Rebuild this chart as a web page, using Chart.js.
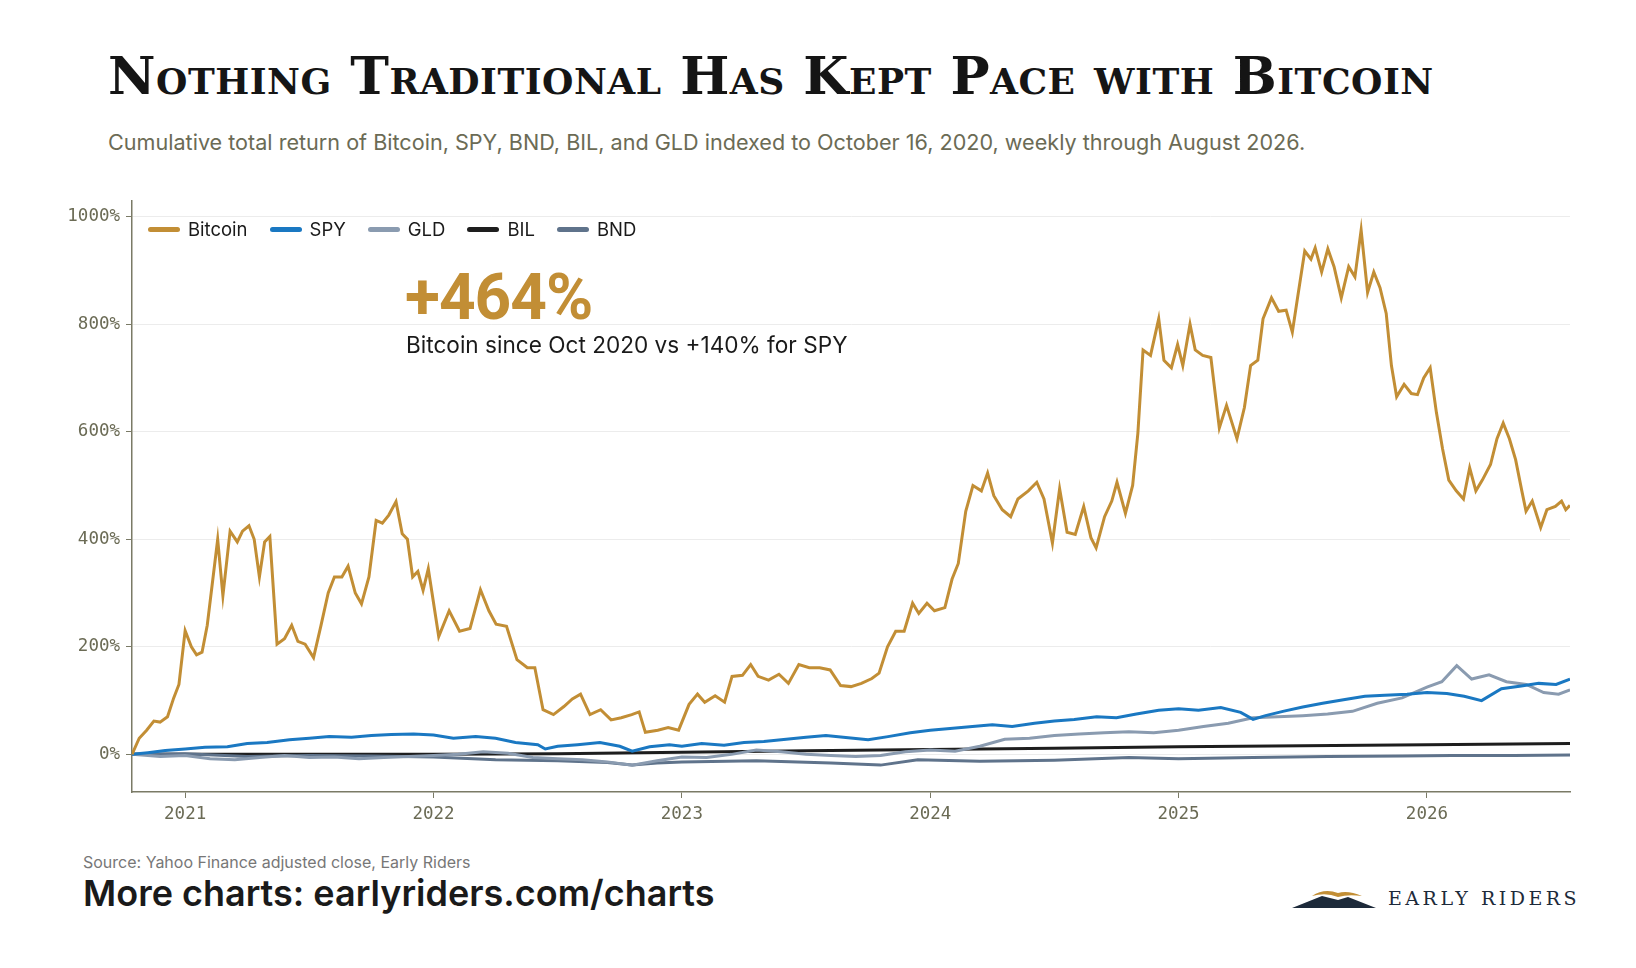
<!DOCTYPE html>
<html><head><meta charset="utf-8">
<script src="https://cdn.jsdelivr.net/npm/chart.js@4"></script>
<style>
body{margin:0;width:1636px;height:968px;background:#fff;position:relative;overflow:hidden;font-family:"Inter","Noto Sans",sans-serif}
#title{position:absolute;left:108px;top:45px;font-family:"DejaVu Serif",serif;font-weight:bold;font-variant:small-caps;font-size:52px;color:#151515;letter-spacing:0.5px}
#sub{position:absolute;left:108px;top:129px;font-size:21.6px;color:#6b6b55}
#wrap{position:absolute;left:60px;top:184px;width:1514px;height:653px}
#legend{position:absolute;left:148px;top:218px;font-size:18.5px;color:#1a1a1a;display:flex;gap:22px}
#legend span{display:flex;align-items:center}
#legend i{display:inline-block;width:32px;height:5px;border-radius:3px;margin-right:8px}
#big{position:absolute;left:405px;top:260px;font-family:"Roboto",sans-serif;font-size:64px;font-weight:bold;letter-spacing:-1px;color:#c28e35}
#bigsub{position:absolute;left:406px;top:331px;font-size:22.6px;color:#1a1a1a}
#src{position:absolute;left:83px;top:852px;font-size:16px;color:#777}
#more{position:absolute;left:83px;top:871px;font-size:36px;font-weight:600;color:#1a1a1a}
#logo{position:absolute;left:1292px;top:886px;display:flex;align-items:center}
#logo div{font-family:"DejaVu Serif",serif;font-size:19px;letter-spacing:3.5px;color:#1d2a3a;margin-left:12px}
</style></head><body>
<div id="title">Nothing Traditional Has Kept Pace with Bitcoin</div>
<div id="sub">Cumulative total return of Bitcoin, SPY, BND, BIL, and GLD indexed to October 16, 2020, weekly through August 2026.</div>
<div id="wrap"><canvas id="c"></canvas></div>
<div id="legend"></div>
<div id="big">+464%</div>
<div id="bigsub">Bitcoin since Oct 2020 vs +140% for SPY</div>
<div id="src">Source: Yahoo Finance adjusted close, Early Riders</div>
<div id="more">More charts: earlyriders.com/charts</div>
<div id="logo"><svg width="84" height="24" viewBox="0 0 84 24"><path d="M0 22 L30 10 L46 14 L56 11 L84 22 Z" fill="#1d2a3a"/><path d="M20 10 Q32 2 46 7 Q56 4 70 10 Q56 8 46 11 Q34 6 20 10Z" fill="#c28e35"/></svg><div>EARLY RIDERS</div></div>
<script>
const SERIES_NAMES = ["Bitcoin", "SPY", "GLD", "BIL", "BND"];
const SERIES_COLORS = ["#c28e35", "#1a78c2", "#8a9bb0", "#1e1e1e", "#5f738b"];
const YEAR_TICKS = [2021, 2022, 2023, 2024, 2025, 2026];
const PCT_TICKS = [0, 200, 400, 600, 800, 1000];

const btcDates = [2020.786,2020.815,2020.845,2020.874,2020.899,2020.929,2020.954,2020.975,2021.000,2021.025,2021.046,2021.068,2021.089,2021.110,2021.131,2021.152,2021.181,2021.210,2021.231,2021.257,2021.278,2021.299,2021.320,2021.341,2021.370,2021.400,2021.429,2021.454,2021.483,2021.517,2021.547,2021.576,2021.601,2021.631,2021.656,2021.685,2021.710,2021.740,2021.769,2021.794,2021.820,2021.849,2021.874,2021.895,2021.916,2021.937,2021.958,2021.979,2022.021,2022.063,2022.105,2022.147,2022.189,2022.223,2022.252,2022.294,2022.336,2022.378,2022.408,2022.441,2022.483,2022.525,2022.559,2022.592,2022.630,2022.673,2022.715,2022.756,2022.798,2022.828,2022.853,2022.903,2022.945,2022.987,2023.029,2023.063,2023.092,2023.134,2023.172,2023.202,2023.244,2023.277,2023.307,2023.349,2023.391,2023.429,2023.471,2023.513,2023.555,2023.597,2023.639,2023.681,2023.723,2023.765,2023.794,2023.828,2023.861,2023.895,2023.929,2023.954,2023.987,2024.017,2024.059,2024.088,2024.113,2024.143,2024.172,2024.206,2024.231,2024.256,2024.290,2024.324,2024.353,2024.395,2024.429,2024.458,2024.492,2024.521,2024.551,2024.584,2024.618,2024.647,2024.668,2024.702,2024.731,2024.752,2024.786,2024.815,2024.836,2024.857,2024.887,2024.920,2024.941,2024.971,2024.996,2025.017,2025.046,2025.067,2025.097,2025.130,2025.164,2025.193,2025.235,2025.265,2025.290,2025.319,2025.340,2025.374,2025.403,2025.433,2025.458,2025.479,2025.508,2025.533,2025.550,2025.576,2025.601,2025.626,2025.655,2025.685,2025.710,2025.735,2025.761,2025.786,2025.811,2025.836,2025.857,2025.878,2025.908,2025.937,2025.962,2025.987,2026.013,2026.038,2026.063,2026.088,2026.118,2026.147,2026.172,2026.197,2026.223,2026.256,2026.282,2026.307,2026.332,2026.357,2026.382,2026.399,2026.424,2026.458,2026.483,2026.517,2026.542,2026.559,2026.576];
const btcValues = [0,30,45,62,60,70,105,130,230,200,185,190,240,320,400,295,415,395,415,425,400,330,395,405,205,215,240,210,205,180,240,300,330,330,350,300,280,330,435,430,445,470,410,400,330,340,305,345,219,267,229,234,306,267,242,238,176,161,161,83,74,89,103,112,74,83,64,68,74,79,41,45,50,45,93,112,97,109,97,145,147,167,145,138,149,132,167,161,161,157,128,126,132,141,151,200,229,229,281,262,281,267,273,326,355,452,500,490,523,481,455,442,475,490,506,475,393,494,413,409,461,403,384,442,471,506,448,500,597,752,742,810,733,719,762,723,800,752,742,738,607,649,587,645,723,733,810,849,824,826,785,849,936,921,942,897,940,907,849,907,888,975,859,897,868,820,723,665,688,671,669,700,719,636,568,510,490,475,533,490,510,539,587,616,587,548,490,452,471,422,455,461,471,455,463];

const spyDates = [2020.786,2020.85,2020.92,2021.0,2021.08,2021.17,2021.25,2021.33,2021.42,2021.5,2021.58,2021.67,2021.75,2021.83,2021.92,2022.0,2022.08,2022.17,2022.25,2022.33,2022.42,2022.45,2022.5,2022.58,2022.67,2022.75,2022.8,2022.87,2022.95,2023.0,2023.08,2023.17,2023.25,2023.33,2023.42,2023.5,2023.58,2023.67,2023.75,2023.83,2023.92,2024.0,2024.08,2024.17,2024.25,2024.33,2024.42,2024.5,2024.58,2024.67,2024.75,2024.83,2024.92,2025.0,2025.08,2025.17,2025.25,2025.3,2025.35,2025.42,2025.5,2025.58,2025.67,2025.75,2025.83,2025.92,2026.0,2026.08,2026.15,2026.22,2026.3,2026.38,2026.45,2026.52,2026.576];
const spyValues = [0,3,7,10,13,14,20,22,27,30,33,32,35,37,38,36,30,33,30,22,18,10,15,18,22,15,6,14,18,15,20,17,22,24,28,32,35,31,27,33,40,45,48,52,55,52,58,62,65,70,68,75,82,85,82,87,78,65,72,80,88,95,102,108,110,112,115,113,108,100,122,127,132,130,140];

const gldDates = [2020.786,2020.9,2021.0,2021.1,2021.2,2021.3,2021.4,2021.5,2021.6,2021.7,2021.8,2021.9,2022.0,2022.1,2022.2,2022.3,2022.4,2022.5,2022.6,2022.7,2022.8,2022.9,2023.0,2023.1,2023.2,2023.3,2023.4,2023.5,2023.6,2023.7,2023.8,2023.9,2024.0,2024.1,2024.2,2024.3,2024.4,2024.5,2024.6,2024.7,2024.8,2024.9,2025.0,2025.1,2025.2,2025.3,2025.4,2025.5,2025.6,2025.7,2025.8,2025.9,2026.0,2026.06,2026.12,2026.18,2026.25,2026.32,2026.4,2026.47,2026.53,2026.576];
const gldValues = [0,-4,-2,-8,-10,-6,-2,-6,-5,-8,-6,-4,-2,0,5,2,-6,-8,-10,-14,-20,-12,-5,-6,0,8,5,0,-2,-4,-2,5,8,6,15,28,30,35,38,40,42,40,45,52,58,68,70,72,75,80,95,105,125,135,165,140,148,135,130,115,112,120];

const bilDates = [2020.786,2021.5,2022.0,2022.5,2023.0,2023.5,2024.0,2024.5,2025.0,2025.5,2026.0,2026.576];
const bilValues = [0,0,0,1,4,6.5,9,11.5,14,16,18,20];

const bndDates = [2020.786,2021.0,2021.25,2021.5,2021.75,2022.0,2022.25,2022.5,2022.7,2022.8,2022.9,2023.0,2023.3,2023.6,2023.8,2023.95,2024.2,2024.5,2024.8,2025.0,2025.3,2025.6,2025.9,2026.1,2026.35,2026.576];
const bndValues = [0,1,-4,-2,-3,-5,-10,-12,-15,-20,-16,-14,-12,-16,-20,-10,-13,-11,-6,-8,-6,-4,-3,-2,-2,-1];

const allDates = [btcDates, spyDates, gldDates, bilDates, bndDates];
const allValues = [btcValues, spyValues, gldValues, bilValues, bndValues];

const legend = document.getElementById("legend");
SERIES_NAMES.forEach((n, i) => {
  const s = document.createElement("span");
  s.innerHTML = `<i style="background:${SERIES_COLORS[i]}"></i>${n}`;
  legend.appendChild(s);
});

const datasets = SERIES_NAMES.map((n, i) => ({
  label: n,
  data: allDates[i].map((d, j) => ({ x: d, y: allValues[i][j] })),
  borderColor: SERIES_COLORS[i],
  borderWidth: 3,
  pointRadius: 0,
  tension: 0,
  order: i === 0 ? 0 : (i === 3 ? 2 : 1)
}));

new Chart(document.getElementById("c"), {
  type: "line",
  data: { datasets },
  options: {
    animation: false,
    responsive: true,
    maintainAspectRatio: false,
    layout: { padding: { top: 8, right: 4 } },
    plugins: { legend: { display: false }, tooltip: { enabled: false } },
    scales: {
      x: {
        type: "linear", min: 2020.786, max: 2026.576,
        afterBuildTicks: s => { s.ticks = YEAR_TICKS.map(v => ({ value: v })); },
        ticks: { color: "#6b6b55", font: { family: "DejaVu Sans Mono", size: 17.5 }, padding: 6, callback: v => String(v) },
        grid: { display: true, drawOnChartArea: false, tickLength: 6, color: "#7a7a66" },
        border: { color: "#7a7a66", width: 1.5 },
        afterFit: s => { s.height = 45; }
      },
      y: {
        min: -70, max: 1030,
        afterBuildTicks: s => { s.ticks = PCT_TICKS.map(v => ({ value: v })); },
        ticks: { color: "#6b6b55", font: { family: "DejaVu Sans Mono", size: 17.5 }, padding: 6, callback: v => v + "%" },
        grid: { color: "#ececec", tickLength: 6, tickColor: "#7a7a66" },
        border: { color: "#7a7a66", width: 1.5 },
        afterFit: s => { s.width = 72; }
      }
    }
  }
});
</script>
</body></html>
